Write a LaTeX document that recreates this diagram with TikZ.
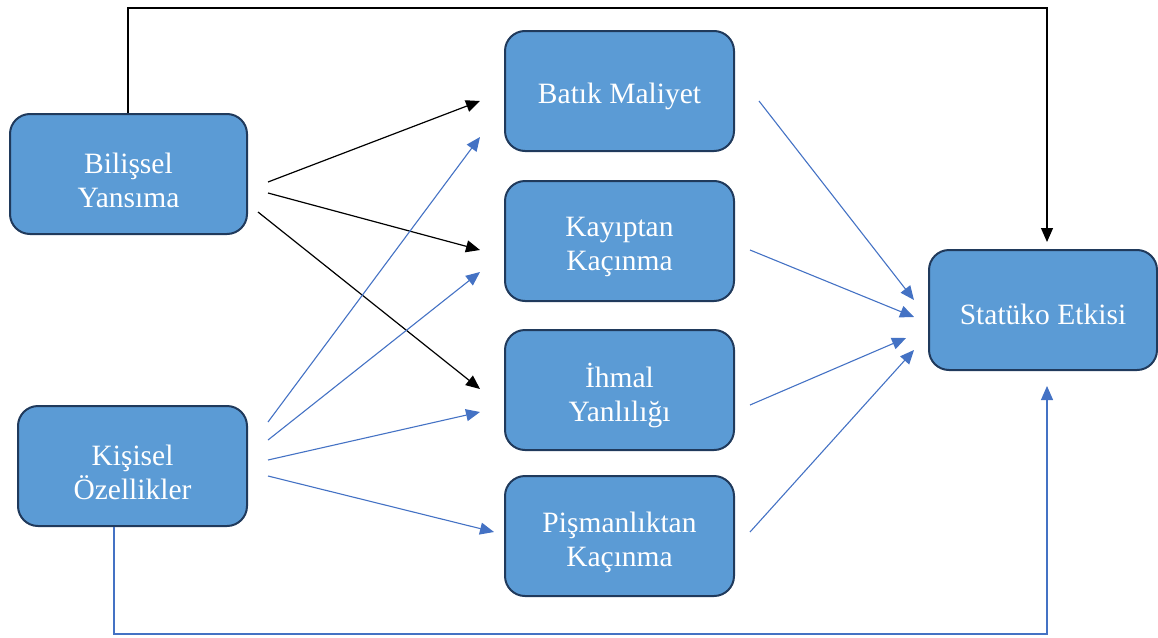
\documentclass[tikz,border=0pt]{standalone}
\usepackage{fontspec}
\setmainfont{Liberation Serif}
\usetikzlibrary{arrows.meta}
\definecolor{boxfill}{HTML}{5B9BD5}
\definecolor{boxline}{HTML}{203A5C}
\definecolor{arrblue}{HTML}{4472C4}
\tikzset{
  box/.style={draw=boxline, line width=2pt, fill=boxfill, rounded corners=20pt,
    minimum width=229pt, minimum height=120pt, inner sep=0pt},
  txt/.style={text=white, align=center, font=\fontsize{29.5}{34}\selectfont,
    inner sep=0pt, yshift=-6pt},
  blk/.style={draw=black, line width=1.2pt, -{Triangle[length=14pt,width=12pt]}},
  blu/.style={draw=arrblue, line width=1.1pt, -{Triangle[length=14pt,width=12pt]}}
}
\begin{document}
\begin{tikzpicture}[x=1pt,y=-1pt]
\useasboundingbox (0,0) rectangle (1158,637);
\node[box, minimum width=237pt, label={[txt]center:{Bilişsel\\Yansıma}}] (by) at (128.5,174) {};
\node[box, label={[txt]center:{Kişisel\\Özellikler}}] (ko) at (132.5,466) {};
\node[box, label={[txt, yshift=1pt]center:{Batık Maliyet}}] (bm) at (619.5,91) {};
\node[box, label={[txt]center:{Kayıptan\\Kaçınma}}] (kk) at (619.5,241) {};
\node[box, label={[txt]center:{İhmal\\Yanlılığı}}] (ih) at (619.5,390) {};
\node[box, label={[txt]center:{Pişmanlıktan\\Kaçınma}}] (pk) at (619.5,536) {};
\node[box, minimum width=228pt, label={[txt, yshift=2pt]center:{Statüko Etkisi}}] (se) at (1043,310) {};
% coordinates
\coordinate (b1) at (268,182); \coordinate (t1) at (480,101);
\coordinate (b2) at (268,193); \coordinate (t2) at (480,250);
\coordinate (b3) at (258,212); \coordinate (t3) at (480,389);
\coordinate (k1) at (268,422); \coordinate (u1) at (480,137);
\coordinate (k2) at (268,440); \coordinate (u2) at (480,272);
\coordinate (k3) at (268,460); \coordinate (u3) at (480,412);
\coordinate (k4) at (268,476); \coordinate (u4) at (494,532);
\coordinate (m1) at (759,101); \coordinate (s1) at (914,300);
\coordinate (m2) at (750,250); \coordinate (s2) at (914,317);
\coordinate (m3) at (750,405); \coordinate (s3) at (906,338);
\coordinate (m4) at (750,532); \coordinate (s4) at (914,350);
\coordinate (topL) at (128,8); \coordinate (topR) at (1047,8); \coordinate (topE) at (1047,242);
\coordinate (botL) at (114,634); \coordinate (botR) at (1047,634); \coordinate (botE) at (1047,386);
% black arrows
\draw[blk] (b1) -- (t1);
\draw[blk] (b2) -- (t2);
\draw[blk] (b3) -- (t3);
\draw[blk] (by.north -| topL) -- (topL) -- (topR) -- (topE);
% blue arrows
\draw[blu] (k1) -- (u1);
\draw[blu] (k2) -- (u2);
\draw[blu] (k3) -- (u3);
\draw[blu] (k4) -- (u4);
\draw[blu] (m1) -- (s1);
\draw[blu] (m2) -- (s2);
\draw[blu] (m3) -- (s3);
\draw[blu] (m4) -- (s4);
\draw[blu] (ko.south -| botL) -- (botL) -- (botR) -- (botE);
\end{tikzpicture}
\end{document}
